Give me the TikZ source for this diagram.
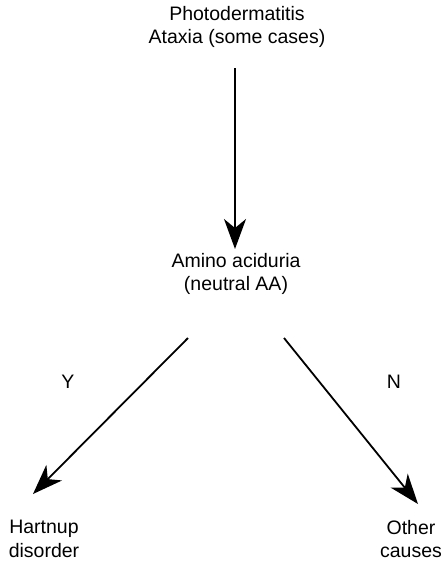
\documentclass[tikz,border=0pt]{standalone}
\usepackage{fontspec}
\setmainfont{Liberation Sans}
\usetikzlibrary{arrows.meta}
\begin{document}
\begin{tikzpicture}[x=1pt,y=-1pt,
  lbl/.style={font=\fontsize{19.5}{23.5}\selectfont, align=center, inner sep=0pt},
  arr/.style={line width=1.8pt, -{Stealth[length=30pt,width=22pt,inset=9pt]}}]
\useasboundingbox (0,0) rectangle (441,562);
\node[lbl] (top) at (237,27) {Photodermatitis\\Ataxia (some cases)};
\node[lbl] (mid) at (236,274) {Amino aciduria\\(neutral AA)};
\node[lbl] (hart) at (44,539) {Hartnup\\disorder};
\node[lbl] (oth) at (411,539) {Other\\causes};
\node[lbl] (y) at (68,382) {Y};
\node[lbl] (n) at (394,382) {N};
\coordinate (a1) at (235,68);
\coordinate (a2) at (235,249);
\coordinate (l1) at (188,338);
\coordinate (l2) at (33,494);
\coordinate (r1) at (284,338);
\coordinate (r2) at (418,504);
\draw[arr] (a1) -- (a2);
\draw[arr] (l1) -- (l2);
\draw[arr] (r1) -- (r2);
\end{tikzpicture}
\end{document}
